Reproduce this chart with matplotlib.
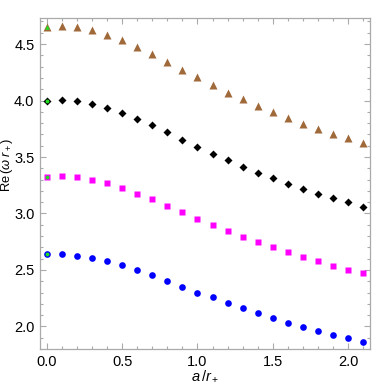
import numpy as np
import matplotlib
matplotlib.use("Agg")
import matplotlib.pyplot as plt
from matplotlib.ticker import MultipleLocator, FormatStrFormatter

plt.rcParams['font.family'] = ['Liberation Sans', 'DejaVu Sans']
plt.rcParams['mathtext.fontset'] = 'custom'
plt.rcParams['mathtext.rm'] = 'Liberation Sans'
plt.rcParams['mathtext.it'] = 'Liberation Sans:italic'

a_vals = [0.0, 0.1, 0.2, 0.3, 0.4, 0.5, 0.6, 0.7, 0.8, 0.9, 1.0,
          1.1, 1.2, 1.3, 1.4, 1.5, 1.6, 1.7, 1.8, 1.9, 2.0, 2.1]
tri_vals = [4.655, 4.662, 4.648, 4.624, 4.58, 4.535, 4.47, 4.41, 4.34, 4.27, 4.205,
            4.14, 4.07, 4.01, 3.95, 3.895, 3.845, 3.795, 3.748, 3.706, 3.665, 3.627]
dia_vals = [4.0, 4.005, 4.0, 3.97, 3.936, 3.89, 3.837, 3.78, 3.72, 3.655, 3.59,
            3.53, 3.47, 3.414, 3.36, 3.31, 3.26, 3.217, 3.172, 3.137, 3.10, 3.06]
sq_vals = [3.325, 3.33, 3.32, 3.30, 3.27, 3.226, 3.175, 3.126, 3.067, 3.01, 2.95,
           2.898, 2.845, 2.795, 2.745, 2.70, 2.657, 2.614, 2.575, 2.537, 2.502, 2.47]
circ_vals = [2.64, 2.642, 2.625, 2.607, 2.578, 2.543, 2.496, 2.455, 2.40, 2.35, 2.30,
             2.257, 2.207, 2.16, 2.115, 2.077, 2.033, 1.995, 1.956, 1.92, 1.894, 1.858]
static_vals = [4.655, 4.0, 3.325, 2.64]

fig = plt.figure(figsize=(3.9, 3.85), dpi=100)
ax = fig.add_axes([0.1026, 0.0935, 0.8461, 0.8595])

ax.plot(a_vals, tri_vals, linestyle='none', marker='^', ms=6.0, color='#a0693a', mec='none')
ax.plot(a_vals, dia_vals, linestyle='none', marker='D', ms=4.0, color='black', mec='none')
ax.plot(a_vals, sq_vals, linestyle='none', marker='s', ms=4.7, color='#ff00ff', mec='none')
ax.plot(a_vals, circ_vals, linestyle='none', marker='o', ms=4.8, color='#0000ff', mec='none')

ax.plot([a_vals[0]], [static_vals[0]], linestyle='none', marker='^', ms=3.3, color='#22dd22', mec='none')
ax.plot([a_vals[0]] * 3, static_vals[1:], linestyle='none', marker='o', ms=2.8, color='#22dd22', mec='none')

ax.set_xlim(-0.045, 2.145)
ax.set_ylim(1.80, 4.73)

ax.xaxis.set_major_locator(MultipleLocator(0.5))
ax.xaxis.set_minor_locator(MultipleLocator(0.1))
ax.yaxis.set_major_locator(MultipleLocator(0.5))
ax.yaxis.set_minor_locator(MultipleLocator(0.1))
ax.xaxis.set_major_formatter(FormatStrFormatter('%.1f'))
ax.yaxis.set_major_formatter(FormatStrFormatter('%.1f'))

for sp in ax.spines.values():
    sp.set_color('#aaaaaa')
    sp.set_linewidth(0.9)

ax.tick_params(which='both', direction='in', top=True, right=True, color='#aaaaaa',
               labelsize=10.5, labelcolor='black', width=0.8)
ax.tick_params(which='major', length=4.5, pad=4)
ax.tick_params(which='minor', length=2.5)

ax.set_xlabel(r'$a\,/r_+$', fontsize=10.5)
ax.set_ylabel(r'Re$\,(\omega\;r_+)$', fontsize=9.3)
ax.xaxis.set_label_coords(0.5, -0.058)
ax.yaxis.set_label_coords(-0.075, 0.556)

fig.savefig('out.png', dpi=100)
